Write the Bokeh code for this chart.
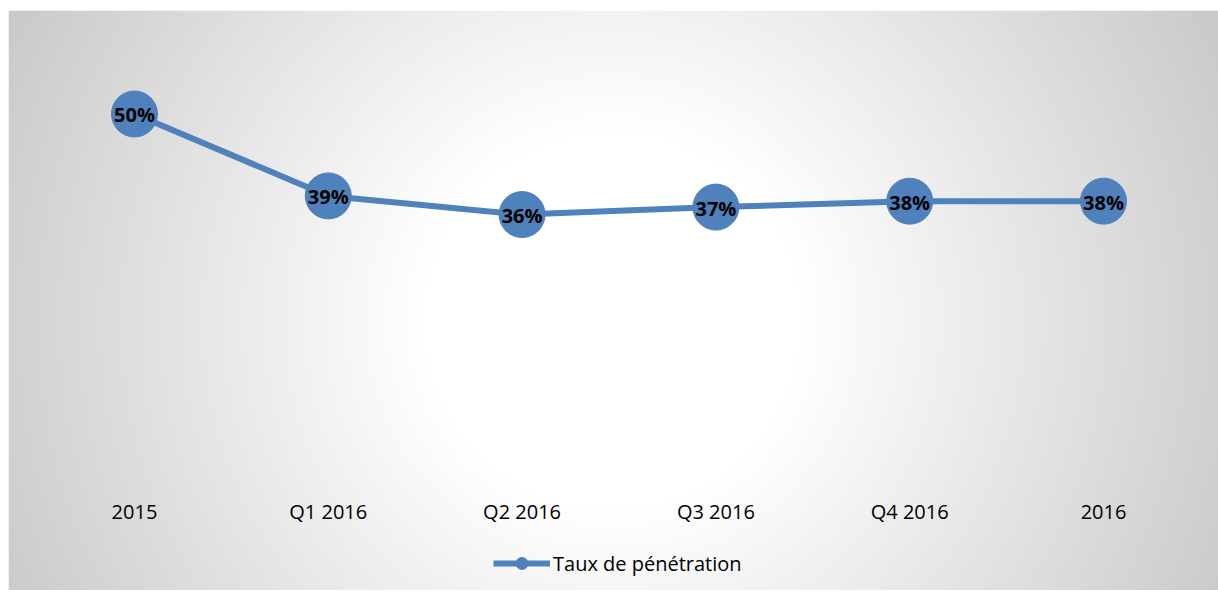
import numpy as np
from bokeh.plotting import figure
from bokeh.models import Range1d, Legend, LegendItem, BoxAnnotation, ColumnDataSource
from bokeh.core.properties import value
from bokeh.embed import file_html
from bokeh.resources import INLINE

# ---- data ----
categories = ["2015", "Q1 2016", "Q2 2016", "Q3 2016", "Q4 2016", "2016"]
rates = [0.500, 0.390, 0.365, 0.375, 0.383, 0.383]
labels = ["50%", "39%", "36%", "37%", "38%", "38%"]
series_name = "Taux de pénétration"

LEFT, TOP = 8, 10
W, H = 1218, 590
FW, FH = W - LEFT, H - TOP

xs = list(range(len(categories)))
x_start, x_end = -0.650, 5.5934
y_start, y_end = -0.1396, 0.6389

p = figure(width=W, height=H, output_backend="svg", toolbar_location=None,
           x_range=Range1d(x_start, x_end), y_range=Range1d(y_start, y_end),
           min_border_left=LEFT, min_border_right=0, min_border_bottom=0,
           min_border_top=TOP, border_fill_color="white", outline_line_color=None)
p.xaxis.visible = False
p.yaxis.visible = False
p.grid.visible = False

# ---- radial gradient background ----
step = 2
nx, ny = FW // step, FH // step
px = LEFT + (np.arange(nx) + 0.5) * step
py = H - (np.arange(ny) + 0.5) * step
PX, PY = np.meshgrid(px, py)
cx, cy = 612.0, 320.0
d = np.sqrt((PX - cx) ** 2 + (PY - cy) ** 2)
t = np.clip((d - 190.0) / (700.0 - 190.0), 0, 1)
g = (255 - 56 * t).astype(np.uint8)
img = np.empty((ny, nx), dtype=np.uint32)
view = img.view(dtype=np.uint8).reshape((ny, nx, 4))
view[:, :, 0] = g
view[:, :, 1] = g
view[:, :, 2] = g
view[:, :, 3] = 255
p.image_rgba(image=[img], x=x_start, y=y_start, dw=x_end - x_start, dh=y_end - y_start)

# legend background box
p.add_layout(BoxAnnotation(left=1.6926, right=3.3128, top=-0.0738, bottom=-0.1356,
                           fill_color="#f2f2f2", fill_alpha=1.0, line_color=None, level="underlay"))

src = ColumnDataSource(dict(x=xs, y=rates, lab=labels))
blue = "#4F81BD"
lr = p.line("x", "y", source=src, line_color=blue, line_width=6)
sr = p.scatter("x", "y", source=src, size=46, fill_color=blue, line_color=blue)
p.text("x", "y", text="lab", source=src, text_font=value("Open Sans"), text_font_size="20px",
       text_font_style="bold", text_color="black", text_align="center", text_baseline="middle",
       y_offset=1)

# category labels
cat_src = ColumnDataSource(dict(x=xs, y=[-0.0336] * len(xs), t=categories))
p.text("x", "y", text="t", source=cat_src, text_font=value("Open Sans"), text_font_size="20px",
       text_color="black", text_align="center", text_baseline="middle")

legend = Legend(items=[LegendItem(label=series_name, renderers=[lr, sr])],
                location=(477, 4), orientation="horizontal",
                glyph_width=57, glyph_height=30, label_height=30, label_standoff=3,
                padding=8, margin=0, spacing=0,
                label_text_font="Open Sans", label_text_font_size="20px", label_text_color="black",
                background_fill_alpha=0, border_line_alpha=0)
p.add_layout(legend)

open("out.html", "w").write(file_html(p, INLINE))
